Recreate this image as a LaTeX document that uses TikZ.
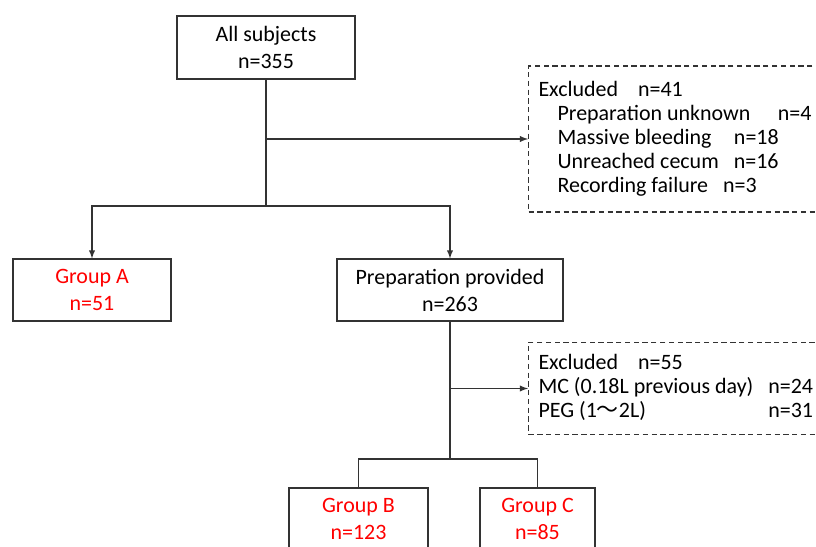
\documentclass[tikz,border=0pt]{standalone}
\usepackage{fontspec}
\setmainfont{Carlito}
\newfontfamily\cjk{Noto Sans CJK JP}
\usepackage{xcolor}
\usepackage{tikz}
\usetikzlibrary{arrows}

\begin{document}
\begin{tikzpicture}[x=0.02cm, y=-0.02cm,
    line width=0.6pt,
    box/.style={draw=black!80, line width=0.6pt, align=center, inner sep=0pt,
        font=\fontsize{12.5}{15.4}\selectfont},
    exbox/.style={draw=black!80, densely dashed, line width=0.6pt, align=left,
        inner sep=0.2cm, anchor=west, minimum width=5.78cm,
        font=\fontsize{12.5}{13.7}\selectfont},
    grp/.style={box, text=red},
    arr/.style={-latex, draw=black!80}]
    \clip (0, 0) rectangle (816, 547);

    \node[box, minimum width=3.56cm, minimum height=1.26cm] (all) at (266, 47.5) {All subjects\\n=355};
    \node[grp, minimum width=3.16cm, minimum height=1.24cm] (grpA) at (92, 290) {Group A\\n=51};
    \node[box, minimum width=4.52cm, minimum height=1.24cm] (prep) at (450, 290) {Preparation provided\\n=263};
    \node[grp, minimum width=2.78cm, minimum height=1.24cm] (grpB) at (358.5, 519) {Group B\\n=123};
    \node[grp, minimum width=2.30cm, minimum height=1.24cm] (grpC) at (537.5, 519) {Group C\\n=85};

    \node[exbox, minimum height=2.92cm] (exc1) at (528, 139) {%
        Excluded\hspace{0.4cm}n=41\\
        \hspace*{0.38cm}Preparation unknown\hspace{0.55cm}n=4\\
        \hspace*{0.38cm}Massive bleeding\hspace{0.45cm}n=18\\
        \hspace*{0.38cm}Unreached cecum\hspace{0.3cm}n=16\\
        \hspace*{0.38cm}Recording failure\hspace{0.3cm}n=3};
    \node[exbox, minimum height=1.74cm] (exc2) at (528, 388.5) {%
        \begin{tabular}{@{}l@{\hspace{0.3cm}}l@{}}
        \multicolumn{2}{@{}l@{}}{Excluded\hspace{0.4cm}n=55}\\
        MC (0.18L previous day) & n=24\\
        PEG (1{\cjk 〜}2L) & n=31
        \end{tabular}};

    \coordinate (j1) at (266, 139);
    \coordinate (j2) at (266, 206);
    \coordinate (j3) at (450, 388.5);
    \coordinate (j4) at (450, 459);

    \draw[black!80] (all.south) -- (j2);
    \draw[arr] (j1) -- (exc1.west);
    \draw[arr] (j2) -| (grpA.north);
    \draw[arr] (j2) -| (prep.north);

    \draw[black!80] (prep.south) -- (j4);
    \draw[arr] (j3) -- (exc2.west);
    \draw[black!80] (j4) -| (grpB.north);
    \draw[black!80] (j4) -| (grpC.north);
\end{tikzpicture}
\end{document}
